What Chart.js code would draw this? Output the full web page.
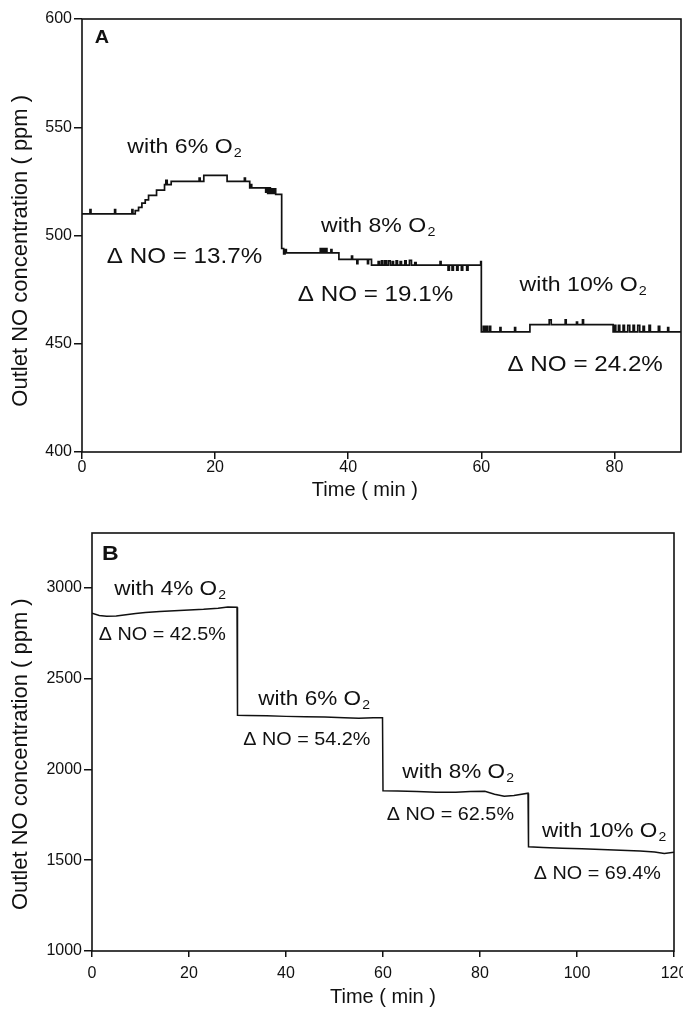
<!DOCTYPE html>
<html>
<head>
<meta charset="utf-8">
<script src="https://cdn.jsdelivr.net/npm/chart.js@4.4.0/dist/chart.umd.min.js"></script>
<style>
  body { margin: 0; background: #fff; }
  canvas { position: absolute; left: 0; }
</style>
</head>
<body>
<canvas id="chartA" width="683" height="510" style="top:0px"></canvas>
<canvas id="chartB" width="683" height="504" style="top:505px"></canvas>
<script>
// Panel A: outlet NO (ppm) vs time, stepped trace
const timeA = [
  0, 1.2, 1.35, 4.9, 5.05, 7.5, 7.65, 8.0, 8.5, 9.0, 9.5, 10.0, 11.2, 12.4, 12.6, 12.8, 13.4,
  17.6, 17.75, 18.3, 21.8, 24.4, 24.55, 25.2, 25.35, 25.5, 27.6, 27.7, 27.9, 28.1, 28.3, 28.5,
  28.7, 28.9, 29.1, 30.0, 30.3, 30.5, 30.7,
  35.8, 36.0, 36.2, 36.4, 36.6, 36.8, 37.4, 37.55, 38.6, 40.5, 40.65, 41.3, 41.45, 42.9, 43.05,
  43.5, 44.5, 44.7, 45.0, 45.2, 45.5, 45.7, 46.0, 46.3, 46.6, 46.8, 47.2, 47.4, 47.8, 48.0, 48.5,
  48.7, 49.2, 49.5, 50.0, 50.2, 53.8, 53.95, 55.0, 55.2, 55.6, 55.8, 56.3, 56.5, 57.0, 57.2,
  57.8, 58.0, 59.9,
  60.0, 60.3, 60.5, 60.7, 60.9, 61.2, 61.4, 62.8, 62.95, 65.0, 65.15, 67.3, 70.2, 70.5, 72.6,
  72.75, 74.3, 74.45, 75.2, 75.35, 79.8, 80.0, 80.2, 80.6, 80.8, 81.3, 81.5, 82.0, 82.3, 82.8,
  83.0, 83.5, 83.8, 84.3, 84.5, 85.2, 85.4, 86.6, 86.8, 88.0, 88.15, 90
];
const noA = [
  510, 512, 510, 512, 510, 512, 510, 511.5, 513, 515, 516.5, 518.5, 521, 523.5, 525.5, 523.5, 525,
  526.5, 525, 527.8, 525, 526.5, 525, 522, 523.5, 522, 520, 522, 519.5, 522, 519.5, 521.5,
  519.5, 521.5, 519, 494, 491.5, 493.5, 492,
  494, 492, 494, 492, 494, 492, 493.5, 492, 489, 490.5, 489, 487, 489, 487, 489,
  486.3, 488, 486.3, 488.3, 486.3, 488.3, 486.3, 488.3, 486.3, 488, 486.3, 488.3, 486.3, 488, 486.3, 488.3,
  486.3, 488.5, 486.3, 487.5, 486.3, 488, 486.3, 484, 486.3, 484, 486.3, 484, 486.3, 484, 486.3,
  484, 486.3, 488,
  455.5, 458, 455.5, 458, 455.5, 458, 455.5, 457.5, 455.5, 457.5, 455.5, 458.8, 461, 458.8, 461,
  458.8, 460, 458.8, 461, 458.8, 455.5, 458.5, 455.5, 458.5, 455.5, 458.5, 455.5, 458.5, 455.5, 458.5,
  455.5, 458.5, 455.5, 458, 455.5, 458.5, 455.5, 458, 455.5, 457.5, 455.5, 455.5
];

// Panel B
const timeB = [0, 1.5, 3, 5, 7, 9, 11, 14, 17, 20, 23, 26, 28, 29.9, 30, 32, 36, 40, 44, 48,
  52, 55, 58, 59.9, 60, 63, 67, 71, 75, 78, 81, 83, 85, 87, 89.9, 90, 93, 97, 101, 105,
  109, 113, 116, 118, 120];
const noB = [2858, 2846, 2842, 2843, 2850, 2857, 2862, 2868, 2872, 2876, 2880, 2886, 2893, 2891, 2297, 2296, 2294, 2291, 2289, 2287,
  2283, 2280, 2284, 2283, 1882, 1881, 1877, 1874, 1873, 1878, 1879, 1863, 1851, 1855, 1868, 1574, 1570, 1566, 1562, 1558,
  1554, 1550, 1545, 1537, 1543];

// tick labels
const xTicksA = [0, 20, 40, 60, 80];
const yTicksA = [400, 450, 500, 550, 600];
const xTicksB = [0, 20, 40, 60, 80, 100, 120];
const yTicksB = [1000, 1500, 2000, 2500, 3000];

// annotations (text and anchor in data units)
const notesA = ['with 6% O₂', 'Δ NO = 13.7%', 'with 8% O₂', 'Δ NO = 19.1%', 'with 10% O₂', 'Δ NO = 24.2%'];
const notesAtA = [[15.4, 540.7], [15.4, 490.3], [44.5, 504.2], [44.1, 472.7], [75.3, 476.9], [75.6, 440.3]];
const notesB = ['with 4% O₂', 'Δ NO = 42.5%', 'with 6% O₂', 'Δ NO = 54.2%', 'with 8% O₂', 'Δ NO = 62.5%', 'with 10% O₂', 'Δ NO = 69.4%'];
const notesAtB = [[16.1, 2989], [14.5, 2736], [45.8, 2383], [44.3, 2160], [75.5, 1981], [73.9, 1749], [105.6, 1656], [104.2, 1424]];

const FONT = '"Liberation Sans", Arial, Helvetica, sans-serif';
const INK = '#111';

function drawNote(ctx, text, x, y, size, weight) {
  const k = text.indexOf('₂');
  const main = k < 0 ? text : text.slice(0, k);
  const subSize = size * 0.62;
  ctx.save();
  ctx.translate(x, y);
  ctx.scale(1.1, 1);
  ctx.fillStyle = INK;
  ctx.textBaseline = 'middle';
  ctx.textAlign = 'left';
  ctx.font = `${weight} ${size}px ${FONT}`;
  const wMain = ctx.measureText(main).width;
  let wSub = 0;
  if (k >= 0) {
    ctx.font = `${weight} ${subSize}px ${FONT}`;
    wSub = ctx.measureText('2').width + 1;
  }
  const x0 = -(wMain + wSub) / 2;
  ctx.font = `${weight} ${size}px ${FONT}`;
  ctx.fillText(main, x0, 0);
  if (k >= 0) {
    ctx.font = `${weight} ${subSize}px ${FONT}`;
    ctx.fillText('2', x0 + wMain + 1, size * 0.27);
  }
  ctx.restore();
}

function notesPlugin(texts, at, sizeWith, sizeDelta, letter, letterAt, letterSize) {
  return {
    id: 'notes',
    afterDatasetsDraw(chart) {
      const { ctx, scales } = chart;
      texts.forEach((t, i) => {
        const size = t.startsWith('with') ? sizeWith : sizeDelta;
        drawNote(ctx, t, scales.x.getPixelForValue(at[i][0]), scales.y.getPixelForValue(at[i][1]), size, 'normal');
      });
      drawNote(ctx, letter, scales.x.getPixelForValue(letterAt[0]), scales.y.getPixelForValue(letterAt[1]), letterSize, 'bold');
    }
  };
}

// closed frame around the plot area
const framePlugin = {
  id: 'frame',
  afterDraw(chart) {
    const { ctx, chartArea: a } = chart;
    ctx.save();
    ctx.strokeStyle = INK;
    ctx.lineWidth = 1.6;
    ctx.strokeRect(a.left, a.top, a.right - a.left, a.bottom - a.top);
    ctx.restore();
  }
};

function makePanel(canvas, cfg) {
  return new Chart(canvas, {
    type: 'line',
    data: {
      datasets: [{
        data: cfg.times.map((t, i) => ({ x: t, y: cfg.values[i] })),
        borderColor: INK,
        borderWidth: cfg.lineWidth,
        pointRadius: 0,
        stepped: cfg.stepped,
        tension: 0,
        fill: false
      }]
    },
    options: {
      responsive: false,
      animation: false,
      devicePixelRatio: 1,
      layout: { padding: { top: cfg.padTop, right: cfg.padRight, bottom: 0, left: 0 } },
      plugins: { legend: { display: false }, tooltip: { enabled: false } },
      scales: {
        x: {
          type: 'linear',
          min: cfg.xMin, max: cfg.xMax,
          afterBuildTicks: s => { s.ticks = cfg.xTicks.map(v => ({ value: v })); },
          afterFit: s => { s.height = cfg.xAxisH; s.paddingLeft = 0; s.paddingRight = 0; },
          border: { display: false },
          grid: { drawOnChartArea: false, drawTicks: true, tickLength: cfg.xTickLen, color: INK, lineWidth: 1.5 },
          ticks: { color: INK, font: { family: FONT, size: 16, lineHeight: 1 }, padding: cfg.xTickPad, maxRotation: 0, autoSkip: false, callback: v => String(v) },
          title: { display: true, text: cfg.xTitle, color: INK, font: { family: FONT, size: 20, lineHeight: 1.2 }, padding: { top: 0, bottom: cfg.xTitlePad } }
        },
        y: {
          type: 'linear',
          min: cfg.yMin, max: cfg.yMax,
          afterBuildTicks: s => { s.ticks = cfg.yTicks.map(v => ({ value: v })); },
          afterFit: s => { s.width = cfg.yAxisW; s.paddingTop = 0; s.paddingBottom = 0; },
          border: { display: false },
          grid: { drawOnChartArea: false, drawTicks: true, tickLength: 8, color: INK, lineWidth: 1.5 },
          ticks: { color: INK, font: { family: FONT, size: 16 }, padding: 2, callback: v => String(v) },
          title: { display: true, text: cfg.yTitle, color: INK, font: { family: FONT, size: 22, lineHeight: 1.2 }, padding: { top: 8, bottom: 0 } }
        }
      }
    },
    plugins: [framePlugin, notesPlugin(cfg.notes, cfg.notesAt, cfg.sizeWith, cfg.sizeDelta, cfg.letter, cfg.letterAt, cfg.letterSize)]
  });
}

makePanel(document.getElementById('chartA'), {
  times: timeA, values: noA, stepped: true, lineWidth: 1.7,
  xMin: 0, xMax: 90, yMin: 400, yMax: 600, xTicks: xTicksA, yTicks: yTicksA,
  padTop: 19, padRight: 2, xAxisH: 58, yAxisW: 82,
  xTickLen: 7, xTickPad: 1, xTitlePad: 8,
  xTitle: 'Time ( min )      ',
  yTitle: 'Outlet NO concentration ( ppm )     ',
  notes: notesA, notesAt: notesAtA, sizeWith: 21, sizeDelta: 22,
  letter: 'A', letterAt: [3.0, 591.2], letterSize: 18
});

makePanel(document.getElementById('chartB'), {
  times: timeB, values: noB, stepped: false, lineWidth: 1.5,
  xMin: 0, xMax: 120, yMin: 1000, yMax: 3300, xTicks: xTicksB, yTicks: yTicksB,
  padTop: 28, padRight: 9, xAxisH: 58, yAxisW: 92,
  xTickLen: 6, xTickPad: 9, xTitlePad: 0,
  xTitle: 'Time ( min )',
  yTitle: 'Outlet NO concentration ( ppm )    ',
  notes: notesB, notesAt: notesAtB, sizeWith: 20.5, sizeDelta: 18,
  letter: 'B', letterAt: [3.8, 3182], letterSize: 21
});
</script>
</body>
</html>
